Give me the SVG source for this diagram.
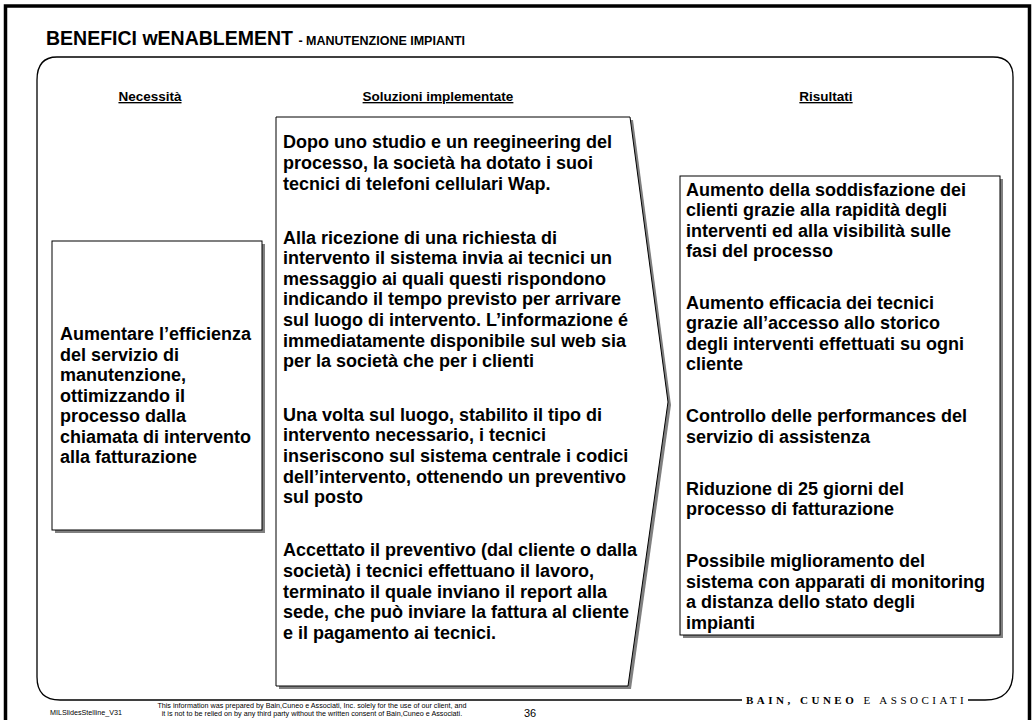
<svg xmlns="http://www.w3.org/2000/svg" width="1034" height="720" viewBox="0 0 1034 720">
<style>
.b{font-family:"Liberation Sans",Arial,sans-serif;font-weight:bold;fill:#000}
.body{font-size:18px}
.hdr{font-size:13.5px;text-decoration:underline}
.box{fill:#fff;stroke:#000;stroke-width:1}
.sh{fill:#808080}
.foot{font-family:"Liberation Sans",Arial,sans-serif;font-size:7.2px;fill:#000}
</style>
<rect x="0" y="0" width="1034" height="720" fill="#fff"/>
<path d="M5.5,740 V6 H1029.5 V740" fill="none" stroke="#000" stroke-width="3.5"/>
<text class="b" x="46" y="45" font-size="19.5">BENEFICI wENABLEMENT <tspan font-size="12.5">- MANUTENZIONE IMPIANTI</tspan></text>
<path d="M968,700 H985 Q1013,700 1013,672 V77 Q1013,57 993,57 H57 Q37,57 37,80 V677 Q37,700 60,700 H742" fill="none" stroke="#000" stroke-width="1.3"/>
<text x="746" y="704" font-family="'Liberation Serif',serif" font-size="11" letter-spacing="3.5" fill="#000"><tspan font-weight="bold">BAIN, CUNEO</tspan> E ASSOCIATI</text>
<g id="headers">
<text class="b hdr" x="150" y="101" text-anchor="middle">Necessità</text>
<text class="b hdr" x="438" y="101" text-anchor="middle">Soluzioni implementate</text>
<text class="b hdr" x="826" y="101" text-anchor="middle">Risultati</text>
</g>
<g id="necessita">
<rect class="sh" x="55" y="244" width="210" height="289"/>
<rect class="box" x="52" y="241" width="210" height="289"/>
<text class="b body" x="60"><tspan x="60" y="340">Aumentare l’efficienza</tspan><tspan x="60" y="361">del servizio di</tspan><tspan x="60" y="381">manutenzione,</tspan><tspan x="60" y="402">ottimizzando il</tspan><tspan x="60" y="422">processo dalla</tspan><tspan x="60" y="443">chiamata di intervento</tspan><tspan x="60" y="463">alla fatturazione</tspan></text>
</g>
<g id="soluzioni">
<polygon class="sh" points="279,120 633,120 671,405 631,689 279,689"/>
<polygon class="box" points="276,117 630,117 668,402 628,686 276,686"/>
<text class="b body"><tspan x="283" y="148">Dopo uno studio e un reegineering del</tspan><tspan x="283" y="169">processo, la società ha dotato i suoi</tspan><tspan x="283" y="190">tecnici di telefoni cellulari Wap.</tspan><tspan x="283" y="244">Alla ricezione di una richiesta di</tspan><tspan x="283" y="264">intervento il sistema invia ai tecnici un</tspan><tspan x="283" y="285">messaggio ai quali questi rispondono</tspan><tspan x="283" y="305">indicando il tempo previsto per arrivare</tspan><tspan x="283" y="326">sul luogo di intervento. L’informazione é</tspan><tspan x="283" y="347">immediatamente disponibile sul web sia</tspan><tspan x="283" y="367">per la società che per i clienti</tspan><tspan x="283" y="421">Una volta sul luogo, stabilito il tipo di</tspan><tspan x="283" y="441">intervento necessario, i tecnici</tspan><tspan x="283" y="462">inseriscono sul sistema centrale i codici</tspan><tspan x="283" y="483">dell’intervento, ottenendo un preventivo</tspan><tspan x="283" y="503">sul posto</tspan><tspan x="283" y="556">Accettato il preventivo (dal cliente o dalla</tspan><tspan x="283" y="577">società) i tecnici effettuano il lavoro,</tspan><tspan x="283" y="598">terminato il quale inviano il report alla</tspan><tspan x="283" y="618">sede, che può inviare la fattura al cliente</tspan><tspan x="283" y="639">e il pagamento ai tecnici.</tspan></text>
</g>
<g id="risultati">
<rect class="sh" x="683" y="179" width="320" height="459"/>
<rect class="box" x="680" y="176" width="320" height="459"/>
<text class="b body"><tspan x="686" y="196">Aumento della soddisfazione dei</tspan><tspan x="686" y="216">clienti grazie alla rapidità degli</tspan><tspan x="686" y="237">interventi ed alla visibilità sulle</tspan><tspan x="686" y="257">fasi del processo</tspan><tspan x="686" y="309">Aumento efficacia dei tecnici</tspan><tspan x="686" y="329">grazie all’accesso allo storico</tspan><tspan x="686" y="350">degli interventi effettuati su ogni</tspan><tspan x="686" y="370">cliente</tspan><tspan x="686" y="422">Controllo delle performances del</tspan><tspan x="686" y="443">servizio di assistenza</tspan><tspan x="686" y="495">Riduzione di 25 giorni del</tspan><tspan x="686" y="515">processo di fatturazione</tspan><tspan x="686" y="567">Possibile miglioramento del</tspan><tspan x="686" y="588">sistema con apparati di monitoring</tspan><tspan x="686" y="608">a distanza dello stato degli</tspan><tspan x="686" y="629">impianti</tspan></text>
</g>
<g id="footer">
<text class="foot" x="50" y="715" font-size="7.6">MILSlidesStelline_V31</text>
<text class="foot" text-anchor="middle"><tspan x="312" y="708">This information was prepared by Bain,Cuneo e Associati, Inc. solely for the use of our client, and</tspan><tspan x="312" y="716">it is not to be relied on by any third party without the written consent of Bain,Cuneo e Associati.</tspan></text>
<text x="524" y="717" font-family="'Liberation Sans',Arial,sans-serif" font-size="11" fill="#000">36</text>
</g>
</svg>
